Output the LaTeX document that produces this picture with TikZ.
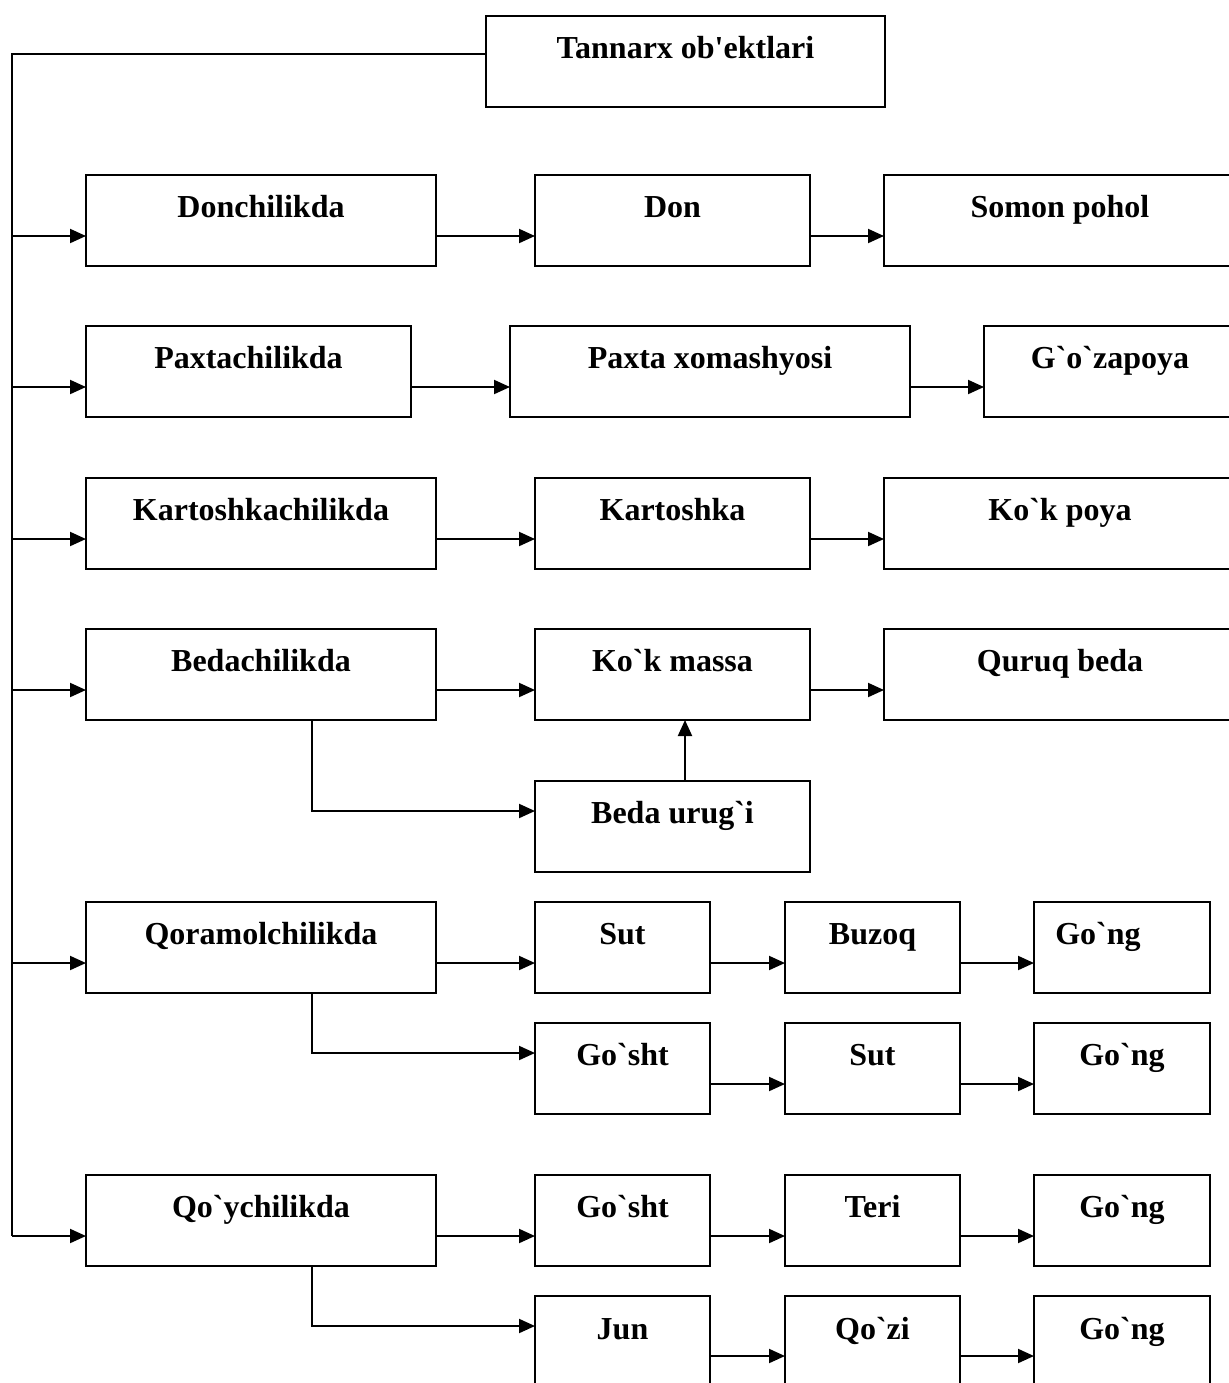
\documentclass[tikz,border=0pt]{standalone}
\usepackage{fontspec}
\setmainfont{Liberation Serif}
\usetikzlibrary{arrows.meta,calc}
\newcommand\bq{\textasciigrave}
\newcommand\bx[6]{\node[box,minimum width={(#4-#2)*0.5pt},minimum height={(#5-#3)*0.5pt}] (#1) at ({(#2+#4)/2},{(#3+#5)/2}) {#6};}
\begin{document}
\begin{tikzpicture}[x=0.5pt,y=-0.5pt,
  box/.style={draw,line width=1pt,inner sep=0pt,outer sep=0pt,
    font=\fontsize{16pt}{19pt}\selectfont\bfseries,text height=12pt,text depth=15.5pt},
  conn/.style={line width=1pt},
  arr/.style={line width=1pt,-{Triangle[length=8pt,width=7pt]}}]
\useasboundingbox (0,0) rectangle (1229,1383);
\clip (0,0) rectangle (1229,1383);
% title
\bx{title}{486}{16}{885}{107}{Tannarx ob\textquotesingle ektlari}
% row 1
\bx{donch}{86}{175}{436}{266}{Donchilikda}
\bx{don}{535}{175}{810}{266}{Don}
\bx{somon}{884}{175}{1236}{266}{Somon pohol}
% row 2
\bx{paxch}{86}{326}{411}{417}{Paxtachilikda}
\bx{paxta}{510}{326}{910}{417}{Paxta xomashyosi}
\bx{gozap}{984}{326}{1236}{417}{G\bq o\bq zapoya}
% row 3
\bx{kartch}{86}{478}{436}{569}{Kartoshkachilikda}
\bx{kart}{535}{478}{810}{569}{Kartoshka}
\bx{kokp}{884}{478}{1236}{569}{Ko\bq k poya}
% row 4
\bx{bedach}{86}{629}{436}{720}{Bedachilikda}
\bx{kokm}{535}{629}{810}{720}{Ko\bq k massa}
\bx{quruq}{884}{629}{1236}{720}{Quruq beda}
\bx{bedau}{535}{781}{810}{872}{Beda urug\bq i}
% row 5
\bx{qoram}{86}{902}{436}{993}{Qoramolchilikda}
\bx{suta}{535}{902}{710}{993}{Sut}
\bx{buzoq}{785}{902}{960}{993}{Buzoq}
\bx{gonga}{1034}{902}{1210}{993}{Go\bq ng\hspace*{24pt}\null}
\bx{goshta}{535}{1023}{710}{1114}{Go\bq sht}
\bx{sutb}{785}{1023}{960}{1114}{Sut}
\bx{gongb}{1034}{1023}{1210}{1114}{Go\bq ng}
% row 6
\bx{qoych}{86}{1175}{436}{1266}{Qo\bq ychilikda}
\bx{goshtc}{535}{1175}{710}{1266}{Go\bq sht}
\bx{teri}{785}{1175}{960}{1266}{Teri}
\bx{gongc}{1034}{1175}{1210}{1266}{Go\bq ng}
\bx{jun}{535}{1296}{710}{1390}{Jun}
\bx{qozi}{785}{1296}{960}{1390}{Qo\bq zi}
\bx{gongd}{1034}{1296}{1210}{1390}{Go\bq ng}
% trunk
\coordinate (t0) at (12,54);
\coordinate (tb) at (12,1236);
\draw[conn] (t0 -| title.west) -- (t0) -- (tb);
% arrow levels
\path (donch.north) ++(0,61) coordinate (r1);
\path (paxch.north) ++(0,61) coordinate (r2);
\path (kartch.north) ++(0,61) coordinate (r3);
\path (bedach.north) ++(0,61) coordinate (r4);
\path (bedau.north) ++(0,30) coordinate (r4b);
\path (qoram.north) ++(0,61) coordinate (r5);
\path (goshta.north) ++(0,30) coordinate (r5b);
\path (goshta.north) ++(0,61) coordinate (r5c);
\path (qoych.north) ++(0,61) coordinate (r6);
\path (jun.north) ++(0,30) coordinate (r6b);
\path (jun.north) ++(0,60) coordinate (r6c);
\coordinate (drop) at (312,0);
\coordinate (up) at (685,0);
% row 1
\draw[arr] (r1 -| t0) -- (r1 -| donch.west);
\draw[arr] (r1 -| donch.east) -- (r1 -| don.west);
\draw[arr] (r1 -| don.east) -- (r1 -| somon.west);
% row 2
\draw[arr] (r2 -| t0) -- (r2 -| paxch.west);
\draw[arr] (r2 -| paxch.east) -- (r2 -| paxta.west);
\draw[arr] (r2 -| paxta.east) -- (r2 -| gozap.west);
% row 3
\draw[arr] (r3 -| t0) -- (r3 -| kartch.west);
\draw[arr] (r3 -| kartch.east) -- (r3 -| kart.west);
\draw[arr] (r3 -| kart.east) -- (r3 -| kokp.west);
% row 4
\draw[arr] (r4 -| t0) -- (r4 -| bedach.west);
\draw[arr] (r4 -| bedach.east) -- (r4 -| kokm.west);
\draw[arr] (r4 -| kokm.east) -- (r4 -| quruq.west);
\draw[arr] (drop |- bedach.south) -- (drop |- r4b) -- (r4b -| bedau.west);
\draw[arr] (up |- bedau.north) -- (up |- kokm.south);
% row 5
\draw[arr] (r5 -| t0) -- (r5 -| qoram.west);
\draw[arr] (r5 -| qoram.east) -- (r5 -| suta.west);
\draw[arr] (r5 -| suta.east) -- (r5 -| buzoq.west);
\draw[arr] (r5 -| buzoq.east) -- (r5 -| gonga.west);
\draw[arr] (drop |- qoram.south) -- (drop |- r5b) -- (r5b -| goshta.west);
\draw[arr] (r5c -| goshta.east) -- (r5c -| sutb.west);
\draw[arr] (r5c -| sutb.east) -- (r5c -| gongb.west);
% row 6
\draw[arr] (r6 -| t0) -- (r6 -| qoych.west);
\draw[arr] (r6 -| qoych.east) -- (r6 -| goshtc.west);
\draw[arr] (r6 -| goshtc.east) -- (r6 -| teri.west);
\draw[arr] (r6 -| teri.east) -- (r6 -| gongc.west);
\draw[arr] (drop |- qoych.south) -- (drop |- r6b) -- (r6b -| jun.west);
\draw[arr] (r6c -| jun.east) -- (r6c -| qozi.west);
\draw[arr] (r6c -| qozi.east) -- (r6c -| gongd.west);
\end{tikzpicture}
\end{document}
